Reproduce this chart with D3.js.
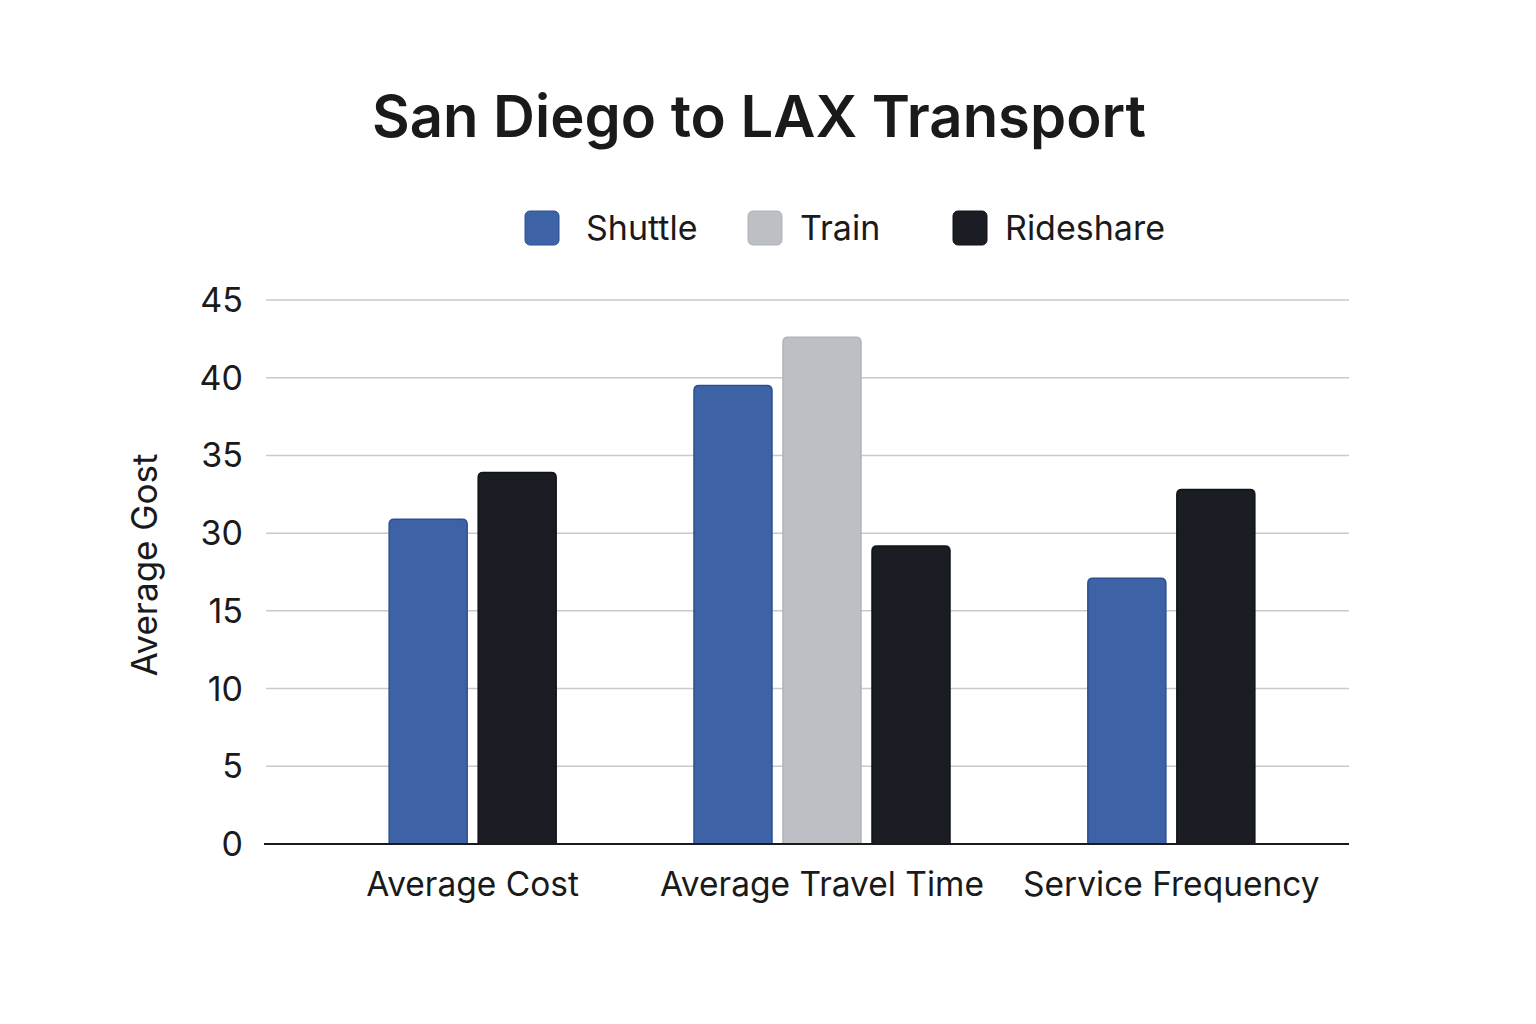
<!DOCTYPE html>
<html>
<head>
<meta charset="utf-8">
<script src="https://cdn.jsdelivr.net/npm/d3@7"></script>
<style>
  body { margin: 0; background: #ffffff; }
  svg { display: block; font-family: Inter, "Noto Sans", sans-serif; }
</style>
</head>
<body>
<div id="chart"></div>
<script>
// data (values in the axis' own label units)
const categories = ["Average Cost", "Average Travel Time", "Service Frequency"]
const seriesNames = ["Shuttle", "Train", "Rideshare"]
const shuttle = [30.9, 39.5, 21.3]
const train = [null, 42.6, null]
const rideshare = [33.9, 27.5, 32.8]
const tickLabels = [0, 5, 10, 15, 30, 35, 40, 45]
const colors = ["#3d62a6", "#bcbfc3", "#1a1d23"]
const strokes = ["#2c4f92", "#b0b3b8", "#111318"]

const width = 1536
const height = 1024
const margin = { left: 266, right: 187, top: 300, bottom: 180 }
const baseY = height - margin.bottom

const svg = d3.select("#chart").append("svg")
  .attr("width", width)
  .attr("height", height)

// y: axis labels are unevenly valued but evenly spaced, so a polylinear scale
const step = (baseY - margin.top) / (tickLabels.length - 1)
const y = d3.scaleLinear()
  .domain(tickLabels)
  .range(tickLabels.map((d, i) => baseY - i * step))

const x0 = d3.scaleBand()
  .domain(categories)
  .range([298, 1346])

const barW = 78
const barGap = 11

// gridlines
svg.append("g")
  .selectAll("line")
  .data(tickLabels.slice(1))
  .enter()
  .append("line")
  .attr("x1", margin.left)
  .attr("x2", width - margin.right)
  .attr("y1", d => y(d))
  .attr("y2", d => y(d))
  .attr("stroke", "#c9c9c9")
  .attr("stroke-width", 1.5)

// tick labels
svg.append("g")
  .selectAll("text")
  .data(tickLabels)
  .enter()
  .append("text")
  .attr("x", 243)
  .attr("y", d => y(d) + 12)
  .attr("text-anchor", "end")
  .attr("font-size", 34)
  .attr("fill", "#1a1a1a")
  .text(d => d)

function topRounded(x, y0, w, h, r) {
  r = Math.min(r, h)
  return `M${x},${y0 + h} L${x},${y0 + r} Q${x},${y0} ${x + r},${y0} L${x + w - r},${y0} Q${x + w},${y0} ${x + w},${y0 + r} L${x + w},${y0 + h} Z`
}

// bars
const allSeries = [shuttle, train, rideshare]
categories.forEach((cat, ci) => {
  const present = seriesNames.filter((s, si) => allSeries[si][ci] != null)
  const total = present.length * barW + (present.length - 1) * barGap
  const cx = x0(cat) + x0.bandwidth() / 2
  const x1 = d3.scaleBand()
    .domain(present)
    .range([cx - total / 2 - barGap / 2, cx + total / 2 + barGap / 2])
    .paddingInner(barGap / (barW + barGap))
    .paddingOuter(barGap / 2 / (barW + barGap))
  present.forEach(s => {
    const si = seriesNames.indexOf(s)
    const v = allSeries[si][ci]
    const top = y(v)
    svg.append("path")
      .attr("d", topRounded(x1(s), top, x1.bandwidth(), baseY - top, 5))
      .attr("fill", colors[si])
      .attr("stroke", strokes[si])
      .attr("stroke-width", 1.5)
  })
})

// baseline
svg.append("line")
  .attr("x1", 264)
  .attr("x2", width - margin.right)
  .attr("y1", baseY)
  .attr("y2", baseY)
  .attr("stroke", "#1a1a1a")
  .attr("stroke-width", 2)

// category labels
svg.append("g")
  .selectAll("text")
  .data(categories)
  .enter()
  .append("text")
  .attr("x", d => x0(d) + x0.bandwidth() / 2)
  .attr("y", 896)
  .attr("text-anchor", "middle")
  .attr("font-size", 33.5)
  .attr("fill", "#1a1a1a")
  .text(d => d)

// y axis title
svg.append("text")
  .attr("transform", "translate(157, 565) rotate(-90)")
  .attr("text-anchor", "middle")
  .attr("font-size", 35)
  .attr("fill", "#1a1a1a")
  .text("Average Gost")

// title
svg.append("text")
  .attr("x", 759)
  .attr("y", 137)
  .attr("text-anchor", "middle")
  .attr("font-size", 58)
  .attr("font-weight", 600)
  .attr("fill", "#1a1a1a")
  .text("San Diego to LAX Transport")

// legend
const legendX = [525, 748, 953]
const legend = svg.append("g")
  .selectAll("g")
  .data(seriesNames)
  .enter()
  .append("g")
  .attr("transform", (d, i) => `translate(${legendX[i]}, 211)`)
legend.append("rect")
  .attr("width", 34)
  .attr("height", 34)
  .attr("rx", 5)
  .attr("fill", (d, i) => colors[i])
  .attr("stroke", (d, i) => strokes[i])
  .attr("stroke-width", 1)
legend.append("text")
  .attr("x", (d, i) => i == 0 ? 61 : 52)
  .attr("y", 29)
  .attr("font-size", 34)
  .attr("fill", "#1a1a1a")
  .text(d => d)
</script>
</body>
</html>
